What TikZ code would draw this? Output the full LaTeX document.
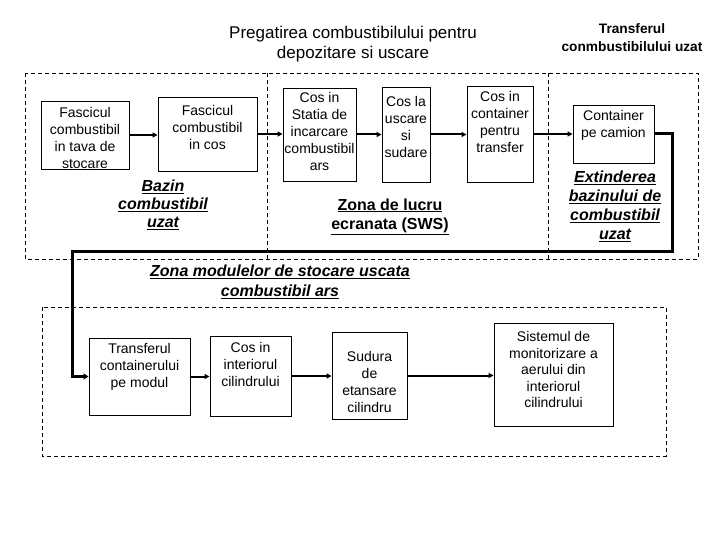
\documentclass[tikz,border=0pt]{standalone}
\usepackage{fontspec}
\setmainfont{Liberation Sans}
\usetikzlibrary{arrows.meta}
\tikzset{
  box/.style={draw, line width=0.9pt, inner sep=0pt},
  zone/.style={draw, line width=0.8pt, dash pattern=on 4pt off 3pt},
  txt/.style={align=center, inner sep=0pt, font=\fontsize{14}{17}\selectfont},
  lbl/.style={align=center, inner sep=0pt, font=\bfseries\itshape\fontsize{16}{19}\selectfont},
  lblup/.style={align=center, inner sep=0pt, font=\bfseries\fontsize{16}{19}\selectfont},
  flow/.style={line width=2pt, -{Triangle[length=5pt,width=5pt]}},
  conn/.style={line width=3pt, -{Triangle[length=5pt,width=6pt]}},
}
\begin{document}
\begin{tikzpicture}[x=1pt,y=-1pt]
\useasboundingbox[fill=white] (0,0) rectangle (720,540);

% titles
\node[align=center, inner sep=0pt, font=\fontsize{17}{20}\selectfont] (title1) at (353,44) {Pregatirea combustibilului pentru\\depozitare si uscare};
\node[align=center, inner sep=0pt, font=\bfseries\fontsize{13.7}{18}\selectfont] (title2) at (632,37.5) {Transferul\\conmbustibilului uzat};

% zones
\draw[zone] (25,73) rectangle (698,259);
\draw[zone] (267,73) -- (267,259);
\draw[zone] (548,73) -- (548,259);
\draw[zone] (42,307) rectangle (666,456);

% top boxes
\node[box, minimum width=88, minimum height=68] (b1) at (85,135) {};
\node[txt] (t1) at (85,138) {Fascicul\\combustibil\\in tava de\\stocare};
\node[box, minimum width=99, minimum height=74] (b2) at (207.5,134) {};
\node[txt] (t2) at (207.5,127) {Fascicul\\combustibil\\in cos};
\node[box, minimum width=73, minimum height=93] (b3) at (319.5,134.5) {};
\node[txt] (t3) at (319.5,131) {Cos in\\Statia de\\incarcare\\combustibil\\ars};
\node[box, minimum width=48, minimum height=95] (b4) at (406,134.5) {};
\node[txt] (t4) at (406,126.5) {Cos la\\uscare\\si\\sudare};
\node[box, minimum width=66, minimum height=96] (b5) at (500,134) {};
\node[txt] (t5) at (500,121.5) {Cos in\\container\\pentru\\transfer};
\node[box, minimum width=81, minimum height=58] (b6) at (613.5,134) {};
\node[txt] (t6) at (613.5,125.5) {Container\\pe camion};

% bottom boxes
\node[box, minimum width=101, minimum height=77] (b7) at (139.5,376.5) {};
\node[txt] (t7) at (139.5,367) {Transferul\\containerului\\pe modul};
\node[box, minimum width=81, minimum height=80] (b8) at (250.5,376) {};
\node[txt] (t8) at (250.5,364.5) {Cos in\\interiorul\\cilindrului};
\node[box, minimum width=75, minimum height=87] (b9) at (369.5,375.5) {};
\node[txt] (t9) at (369.5,382) {Sudura\\de\\etansare\\cilindru};
\node[box, minimum width=119, minimum height=103] (b10) at (553.5,374.5) {};
\node[txt, font=\fontsize{14}{16.5}\selectfont] (t10) at (553.5,369.5) {Sistemul de\\monitorizare a\\aerului din\\interiorul\\cilindrului};

% zone labels
\node[lbl, font=\bfseries\itshape\fontsize{16}{18}\selectfont] (l1) at (163,205) {\underline{Bazin}\\\underline{combustibil}\\\underline{uzat}};
\node[lblup] (l2) at (390,216.5) {\underline{Zona de lucru}\\\underline{ecranata (SWS)}};
\node[lbl] (l3) at (615,206) {\underline{Extinderea}\\\underline{bazinului de}\\\underline{combustibil}\\\underline{uzat}};
\node[lbl, font=\bfseries\itshape\fontsize{16}{20}\selectfont] (l4) at (280,282) {\underline{Zona modulelor de stocare uscata}\\\underline{combustibil ars}};

% flows
\draw[flow] (b1.east) -- (b1.east -| b2.west);
\draw[flow] (b2.east) -- (b2.east -| b3.west);
\draw[flow] (b3.east) -- (b3.east -| b4.west);
\draw[flow] (b4.east) -- (b4.east -| b5.west);
\draw[flow] (b5.east) -- (b5.east -| b6.west);
\draw[flow] (b7.east) -- (b7.east -| b8.west);
\draw[flow] (b8.east) -- (b8.east -| b9.west);
\draw[flow] (b9.east) -- (b9.east -| b10.west);

\coordinate (c1) at (672,251);
\coordinate (c2) at (72,251);
\draw[conn] (b6.east) -- (b6.east -| c1) |- (c2) |- (b7.west);
\end{tikzpicture}
\end{document}
